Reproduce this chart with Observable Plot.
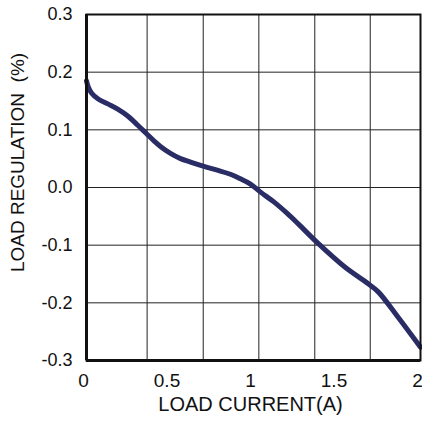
<!DOCTYPE html>
<html>
<head>
<meta charset="utf-8">
<script src="https://cdn.jsdelivr.net/npm/d3@7"></script>
<script src="https://cdn.jsdelivr.net/npm/@observablehq/plot@0.6"></script>
<style>
  html, body { margin: 0; padding: 0; background: #fff; }
  svg text { white-space: pre; }
</style>
</head>
<body>
<div id="chart"></div>
<script>
const loadCurrent = [0, 0.01, 0.03, 0.068, 0.128, 0.187, 0.247, 0.307, 0.357, 0.407, 0.443, 0.503, 0.563, 0.623, 0.699, 0.783, 0.862, 0.922, 0.982, 1.042, 1.122, 1.202, 1.271, 1.387, 1.547, 1.687, 1.747, 1.866, 2.0];
const loadRegulation = [0.185, 0.175, 0.164, 0.154, 0.145, 0.136, 0.124, 0.108, 0.094, 0.080, 0.071, 0.059, 0.050, 0.044, 0.037, 0.030, 0.023, 0.015, 0.006, -0.008, -0.025, -0.045, -0.064, -0.097, -0.138, -0.167, -0.181, -0.225, -0.277];
const xTicks = [0, 0.5, 1, 1.5, 2];
const xTickLabels = ["0", "0.5", "1", "1.5", "2"];
const yTicks = [0.3, 0.2, 0.1, 0.0, -0.1, -0.2, -0.3];
const yTickLabels = ["0.3", "0.2", "0.1", "0.0", "-0.1", "-0.2", "-0.3"];
const xGrid = [0.363, 0.699, 1.032, 1.367, 1.699];
const xLabel = "LOAD CURRENT(A)";
const yLabel = "LOAD REGULATION  (%)";

const data = loadCurrent.map((x, i) => ({x, y: loadRegulation[i]}));

const chart = Plot.plot({
  width: 422,
  height: 421,
  marginLeft: 86,
  marginRight: 2,
  marginTop: 14,
  marginBottom: 61,
  style: {fontFamily: "Liberation Sans, Arial, sans-serif", background: "#fff", color: "#111"},
  x: {domain: [0, 2]},
  y: {domain: [-0.3, 0.3]},
  marks: [
    Plot.ruleY(yTicks.slice(1, -1), {stroke: "#222", strokeWidth: 1}),
    Plot.ruleX(xGrid, {stroke: "#222", strokeWidth: 1}),
    Plot.line(data, {x: "x", y: "y", stroke: "#2a2d65", strokeWidth: 5, curve: "catmull-rom"}),
    Plot.frame({stroke: "#111", strokeWidth: 2}),
    Plot.ruleX([0], {stroke: "#111", strokeWidth: 3}),
    Plot.ruleY([-0.3], {stroke: "#111", strokeWidth: 3}),
    Plot.axisX({ticks: xTicks, tickFormat: (d, i) => xTickLabels[i], tickSize: 0, tickPadding: 13, fontSize: 19, dx: -3, label: null}),
    Plot.axisY({ticks: yTicks, tickFormat: (d, i) => yTickLabels[i], tickSize: 0, tickPadding: 14, fontSize: 18, label: null}),
    Plot.text([xLabel], {text: d => d, frameAnchor: "bottom", dy: 50, dx: -3, fontSize: 20, fill: "#111"}),
    Plot.text([yLabel], {text: d => d, frameAnchor: "left", textAnchor: "middle", rotate: -90, dx: -69, dy: -25, fontSize: 19, fill: "#111"})
  ]
});
document.getElementById("chart").appendChild(chart);
</script>
</body>
</html>
